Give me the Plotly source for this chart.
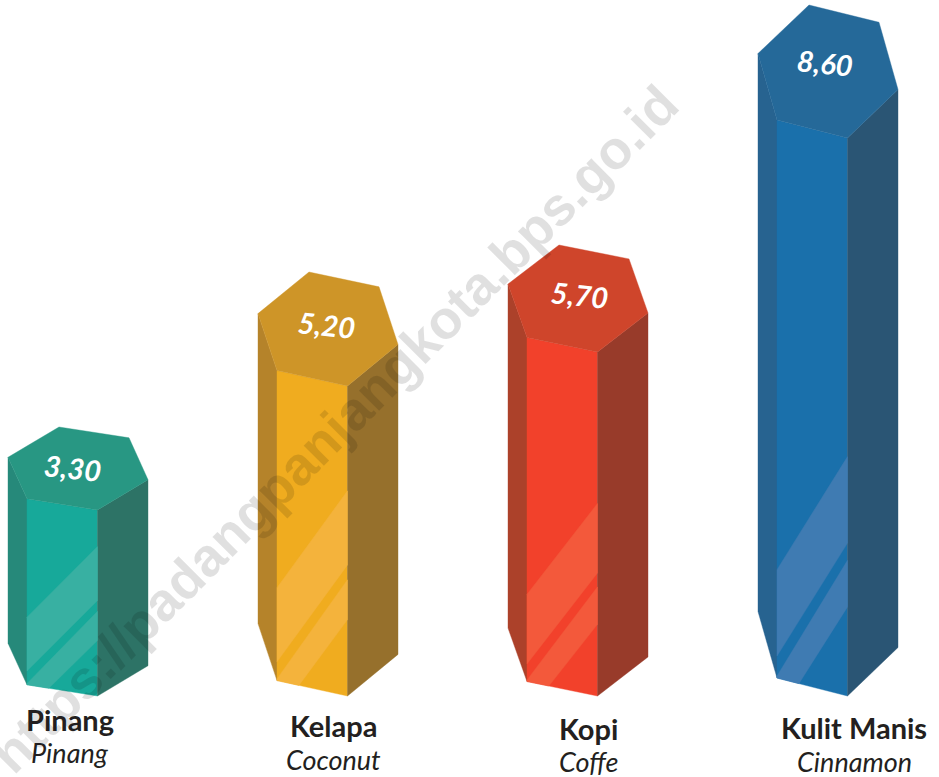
import plotly.graph_objects as go

# ---- data ----
categories = ["Pinang", "Kelapa", "Kopi", "Kulit Manis"]
translations = ["Pinang", "Coconut", "Coffe", "Cinnamon"]
values = [3.30, 5.20, 5.70, 8.60]
# the column heights in the picture are not proportional to the printed values,
# so the drawn height (in plot units) is read separately
drawn_heights = [186, 310, 344, 558]
front_colors = ["#17A99A", "#F0AC1F", "#F2412B", "#1A70AB"]
top_colors = ["#289783", "#CE9528", "#CF452B", "#256999"]
left_colors = ["#26897A", "#B5832A", "#AC412A", "#276390"]
right_colors = ["#2D7366", "#96702C", "#983B2A", "#2A5574"]
band_colors = ["#38B0A2", "#F4B33C", "#F3593B", "#3F7BB2"]

# ---- shared prism geometry ----
SLOT = 250
START = 8
TILT = [83, 114, 107, 133]               # per-column view tilt of the hexagon
HEX_X = dict(A=0, B=51, C=121, D=140, E=89.5, F=19)
HEX_Y = dict(A=.635, B=1, C=.87, D=.365, E=0, F=.135)
UPPER_BAND = [(0, .95), (1, 1.80), (1, 1.15), (0, .30)]
LOWER_BAND = [(0, .15), (1, 1.02), (1, .67), (.31, .093), (0, .135)]


def poly(fig, xs, ys, color):
    fig.add_trace(go.Scatter(
        x=xs + xs[:1], y=ys + ys[:1], mode="lines", fill="toself",
        fillcolor=color, line=dict(width=0.4, color=color),
        hoverinfo="skip", showlegend=False))


fig = go.Figure()
for i, h in enumerate(drawn_heights):
    x0, t = START + SLOT * i, TILT[i]
    px = lambda k: x0 + HEX_X[k]
    low = lambda k: HEX_Y[k] * t
    high = lambda k: HEX_Y[k] * t + h
    poly(fig, [px("A"), px("F"), px("F"), px("A")],
         [high("A"), high("F"), low("F"), low("A")], left_colors[i])
    poly(fig, [px("F"), px("E"), px("E"), px("F")],
         [high("F"), high("E"), low("E"), low("F")], front_colors[i])
    poly(fig, [px("E"), px("D"), px("D"), px("E")],
         [high("E"), high("D"), low("D"), low("E")], right_colors[i])
    for band in (UPPER_BAND, LOWER_BAND):
        w = HEX_X["E"] - HEX_X["F"]
        poly(fig, [px("F") + u * w for u, _ in band], [v * t for _, v in band], band_colors[i])
    keys = list("ABCDEF")
    poly(fig, [px(k) for k in keys], [high(k) for k in keys], top_colors[i])

ann = [dict(x=334, y=267, text="<b>https://padangpanjangkota.bps.go.id</b>", showarrow=False,
            textangle=-45,
            font=dict(family="Liberation Sans", size=54, color="rgba(0,0,0,0.12)"))]
label_dx = [64, 68, 71, 67]
label_dy = [43, 62, 58, 76]
for i, v in enumerate(values):
    ann.append(dict(
        x=START + SLOT * i + label_dx[i], y=drawn_heights[i] + label_dy[i],
        text=f"<b><i>{v:.2f}".replace(".", ",") + "</i></b>", showarrow=False,
        textangle=6, font=dict(family="Lato", size=29, color="white")))
cat_x = [70, 333, 588, 854]
cat_y = [-23, -29, -32, -31]
sub_y = [-56, -63, -65, -65]
for i, name in enumerate(categories):
    ann.append(dict(x=cat_x[i], y=cat_y[i], text=f"<b>{name}</b>", showarrow=False,
                    font=dict(family="Lato", size=29, color="#231F20")))
    ann.append(dict(x=cat_x[i], y=sub_y[i], text=f"<i>{translations[i]}</i>", showarrow=False,
                    font=dict(family="Lato", size=27, color="#231F20")))

fig.update_layout(
    width=939, height=777, margin=dict(l=0, r=0, t=0, b=0),
    paper_bgcolor="white", plot_bgcolor="white", annotations=ann,
    xaxis=dict(range=[0, 939], visible=False, fixedrange=True),
    yaxis=dict(range=[-81, 696], visible=False, fixedrange=True),
)
fig.write_html("out.html", post_script="document.body.style.margin='0';",
               config={"displayModeBar": False})
